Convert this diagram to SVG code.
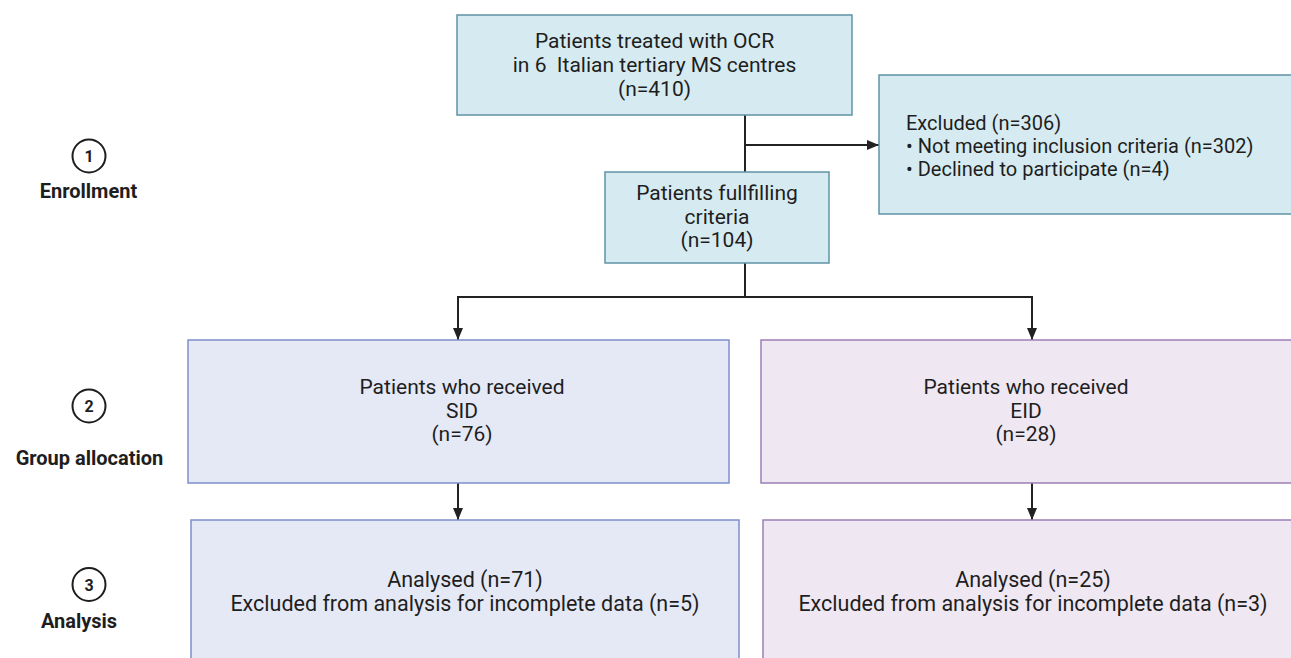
<svg xmlns="http://www.w3.org/2000/svg" width="1291" height="658" viewBox="0 0 1291 658">
<style>
  text { font-family: Roboto, "Liberation Sans", sans-serif; fill: #1e1e1e; }
  .t { font-size: 21px; text-anchor: middle; }
  .ta { font-size: 21.5px; text-anchor: middle; }
  .tl { font-size: 20px; text-anchor: start; }
  .lbl { font-size: 20px; font-weight: bold; text-anchor: middle; }
  .num { font-size: 16px; font-weight: bold; text-anchor: middle; }
  .cyan { fill: #d6ebf1; stroke: #5f93a5; stroke-width: 1.5; }
  .blue { fill: #e5e9f5; stroke: #7d8fcb; stroke-width: 1.5; }
  .purple { fill: #efe8f2; stroke: #9c7fb7; stroke-width: 1.5; }
  .circ { fill: #ffffff; stroke: #1e1e1e; stroke-width: 2; }
  .conn { fill: none; stroke: #222222; stroke-width: 2; }
</style>
<defs>
  <marker id="arr" viewBox="0 0 12 10" refX="12" refY="5" markerWidth="12" markerHeight="10" markerUnits="userSpaceOnUse" orient="auto">
    <path d="M0,0 L12,5 L0,10 Z" fill="#222222"/>
  </marker>
</defs>
<rect width="1291" height="658" fill="#ffffff"/>

<g id="stage-labels">
  <g id="stage1">
    <circle class="circ" cx="89" cy="156" r="16.5"/>
    <text class="num" x="89" y="162">1</text>
    <text class="lbl" x="88.5" y="198">Enrollment</text>
  </g>
  <g id="stage2">
    <circle class="circ" cx="89" cy="406" r="16.5"/>
    <text class="num" x="89" y="412">2</text>
    <text class="lbl" x="89.5" y="465">Group allocation</text>
  </g>
  <g id="stage3">
    <circle class="circ" cx="89" cy="584.5" r="16.5"/>
    <text class="num" x="89" y="590.5">3</text>
    <text class="lbl" x="79" y="628">Analysis</text>
  </g>
</g>

<g id="connectors">
  <line class="conn" x1="745" y1="115" x2="745" y2="172"/>
  <line class="conn" x1="744" y1="145" x2="879" y2="145" marker-end="url(#arr)"/>
  <polyline class="conn" points="745,263 745,297"/>
  <polyline class="conn" points="745,297 458,297 458,340" marker-end="url(#arr)"/>
  <polyline class="conn" points="745,297 1032,297 1032,340" marker-end="url(#arr)"/>
  <line class="conn" x1="458" y1="483" x2="458" y2="520" marker-end="url(#arr)"/>
  <line class="conn" x1="1032" y1="483" x2="1032" y2="520" marker-end="url(#arr)"/>
</g>

<g id="node-total">
  <rect class="cyan" x="457" y="15" width="395" height="100"/>
  <text class="t" x="654.5" y="48">Patients treated with OCR</text>
  <text class="t" x="654.5" y="72" xml:space="preserve">in 6  Italian tertiary MS centres</text>
  <text class="t" x="654.5" y="96">(n=410)</text>
</g>

<g id="node-excluded">
  <rect class="cyan" x="879" y="75" width="420" height="139"/>
  <text class="tl" x="906" y="130">Excluded (n=306)</text>
  <text class="tl" x="906" y="153">• Not meeting inclusion criteria (n=302)</text>
  <text class="tl" x="906" y="176">• Declined to participate (n=4)</text>
</g>

<g id="node-fulfilling">
  <rect class="cyan" x="605" y="172" width="224" height="91"/>
  <text class="t" x="717" y="200">Patients fullfilling</text>
  <text class="t" x="717" y="224">criteria</text>
  <text class="t" x="717" y="247">(n=104)</text>
</g>

<g id="node-sid">
  <rect class="blue" x="188" y="340" width="541" height="143"/>
  <text class="t" x="462" y="394">Patients who received</text>
  <text class="t" x="462" y="418">SID</text>
  <text class="t" x="462" y="441">(n=76)</text>
</g>

<g id="node-eid">
  <rect class="purple" x="761" y="340" width="540" height="143"/>
  <text class="t" x="1026" y="394">Patients who received</text>
  <text class="t" x="1026" y="418">EID</text>
  <text class="t" x="1026" y="441">(n=28)</text>
</g>

<g id="node-sid-analysis">
  <rect class="blue" x="191" y="520" width="548" height="150"/>
  <text class="ta" x="465" y="587">Analysed (n=71)</text>
  <text class="ta" x="465" y="611">Excluded from analysis for incomplete data (n=5)</text>
</g>

<g id="node-eid-analysis">
  <rect class="purple" x="763" y="520" width="545" height="150"/>
  <text class="ta" x="1033" y="587">Analysed (n=25)</text>
  <text class="ta" x="1033" y="611">Excluded from analysis for incomplete data (n=3)</text>
</g>
</svg>
